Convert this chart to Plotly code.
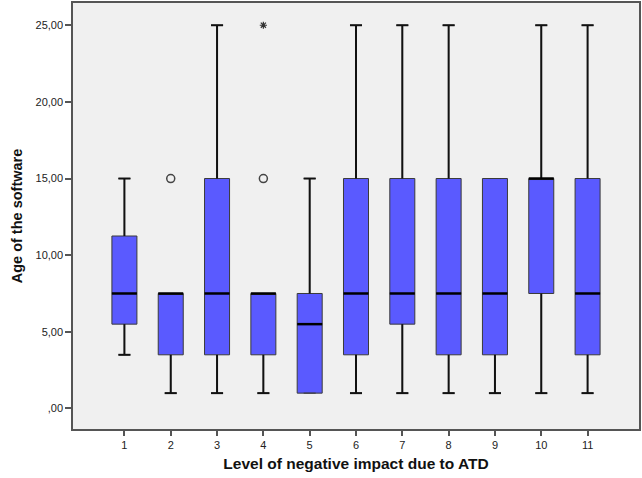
import plotly.graph_objects as go

categories = [1, 2, 3, 4, 5, 6, 7, 8, 9, 10, 11]
lower_whisker = [3.5, 1, 1, 1, 1, 1, 1, 1, 1, 1, 1]
q1_values = [5.5, 3.5, 3.5, 3.5, 1, 3.5, 5.5, 3.5, 3.5, 7.5, 3.5]
median_values = [7.5, 7.5, 7.5, 7.5, 5.5, 7.5, 7.5, 7.5, 7.5, 15, 7.5]
q3_values = [11.25, 7.5, 15, 7.5, 7.5, 15, 15, 15, 15, 15, 15]
upper_whisker = [15, 7.5, 25, 7.5, 15, 25, 25, 25, 15, 25, 25]

circle_outlier_x = [2, 4]
circle_outlier_y = [15, 15]
extreme_outlier_x = [4]
extreme_outlier_y = [25]

y_tick_values = [0, 5, 10, 15, 20, 25]
y_tick_labels = [",00", "5,00", "10,00", "15,00", "20,00", "25,00"]

BOX_W = 0.54
CAP_W = 0.26
FILL = "#5A5AFF"

fig = go.Figure()
fig.add_trace(go.Box(
    x=categories, q1=q1_values, median=median_values, q3=q3_values,
    lowerfence=lower_whisker, upperfence=upper_whisker,
    width=BOX_W, whiskerwidth=CAP_W / BOX_W,
    fillcolor=FILL, line=dict(color="#3a3a3a", width=1),
    boxpoints=False, showlegend=False, hoverinfo="skip",
))

# whiskers (thicker black) derived from data
wx, wy = [], []
for c, lo, a, b, hi in zip(categories, lower_whisker, q1_values, q3_values, upper_whisker):
    if hi > b:
        wx += [c, c, None, c - CAP_W / 2, c + CAP_W / 2, None]
        wy += [b, hi, None, hi, hi, None]
    if lo < a:
        wx += [c, c, None, c - CAP_W / 2, c + CAP_W / 2, None]
        wy += [lo, a, None, lo, lo, None]
fig.add_trace(go.Scatter(x=wx, y=wy, mode="lines",
                         line=dict(color="#111111", width=2),
                         showlegend=False, hoverinfo="skip"))

# medians
mx, my = [], []
for c, m in zip(categories, median_values):
    mx += [c - BOX_W / 2, c + BOX_W / 2, None]
    my += [m, m, None]
fig.add_trace(go.Scatter(x=mx, y=my, mode="lines",
                         line=dict(color="#000000", width=2.5),
                         showlegend=False, hoverinfo="skip"))

fig.add_trace(go.Scatter(x=circle_outlier_x, y=circle_outlier_y, mode="markers",
                         marker=dict(symbol="circle-open", size=8,
                                     color="#444444", line=dict(width=1.5)),
                         showlegend=False, hoverinfo="skip"))
fig.add_trace(go.Scatter(x=extreme_outlier_x, y=extreme_outlier_y, mode="markers",
                         marker=dict(symbol="asterisk-open", size=6,
                                     color="#333333", line=dict(width=1.2, color="#333333")),
                         showlegend=False, hoverinfo="skip"))

fig.update_layout(
    width=642, height=478,
    margin=dict(l=73, r=1, t=1, b=49),
    paper_bgcolor="white", plot_bgcolor="#F0F0F0",
    font=dict(family="Liberation Sans, Arial, sans-serif", color="#222222", size=11),
)
fig.update_xaxes(
    range=[-0.11, 12.11], tickvals=categories, ticktext=[str(c) for c in categories],
    showgrid=False, zeroline=False,
    showline=True, linecolor="#555555", linewidth=1.5, mirror=True,
    ticks="outside", ticklen=5, tickcolor="#555555", tickwidth=1.5,
    tickfont=dict(size=11, color="#222222"),
    title=dict(text="<b>Level of negative impact due to ATD</b>",
               font=dict(size=15.5, color="#111111"), standoff=8),
)
fig.update_yaxes(
    range=[-1.34, 26.45], tickvals=y_tick_values, ticktext=y_tick_labels,
    showgrid=False, zeroline=False,
    showline=True, linecolor="#555555", linewidth=1.5, mirror=True,
    ticks="outside", ticklen=6, tickcolor="#555555", tickwidth=1.5,
    tickfont=dict(size=11, color="#222222"),
    title=dict(text="<b>Age of the software</b>",
               font=dict(size=14.5, color="#111111"), standoff=9),
)

fig.write_html("out.html", config={"displayModeBar": False},
               post_script="document.body.style.margin='0';document.body.style.overflow='hidden';")
